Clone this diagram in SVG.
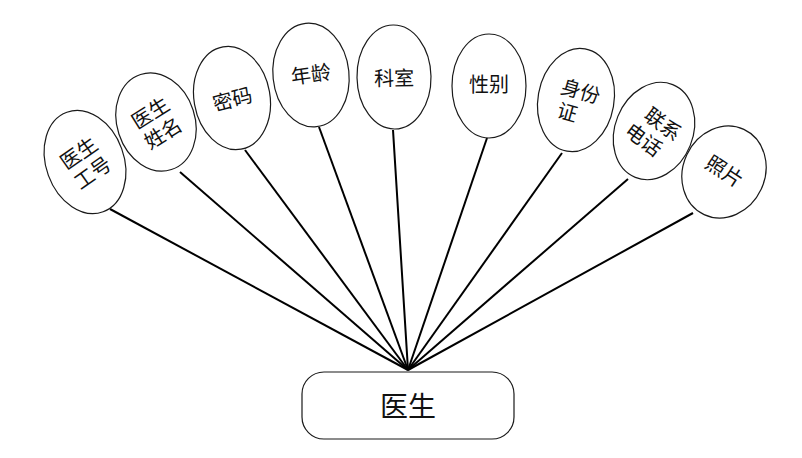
<svg xmlns="http://www.w3.org/2000/svg" width="802" height="458" viewBox="0 0 802 458">
<style>
.e{fill:#fff;stroke:#1a1a1a;stroke-width:1.2}
.t{font-family:"Noto Sans CJK SC","Noto Sans",sans-serif;font-size:20px;fill:#111;text-anchor:middle;dominant-baseline:central}
.c{stroke:#000;stroke-width:2;fill:none}
</style>
<rect width="802" height="458" fill="#fff"/>
<g id="connectors">
<line class="c" x1="408" y1="370" x2="110" y2="209"/>
<line class="c" x1="408" y1="370" x2="180" y2="172"/>
<line class="c" x1="408" y1="370" x2="245" y2="150"/>
<line class="c" x1="408" y1="370" x2="319" y2="127"/>
<line class="c" x1="408" y1="370" x2="393" y2="130"/>
<line class="c" x1="408" y1="370" x2="487" y2="138"/>
<line class="c" x1="408" y1="370" x2="562" y2="153"/>
<line class="c" x1="408" y1="370" x2="628" y2="179"/>
<line class="c" x1="408" y1="370" x2="693" y2="213"/>
</g>
<g id="n1" transform="translate(85,162) rotate(-20)">
<ellipse class="e" rx="39" ry="53"/>
<g transform="rotate(-15)"><text class="t" x="0" y="-12">医生</text><text class="t" x="0" y="12">工号</text></g>
</g>
<g id="n2" transform="translate(156,122) rotate(-18)">
<ellipse class="e" rx="39" ry="50"/>
<g transform="rotate(-14)"><text class="t" x="0" y="-12">医生</text><text class="t" x="0" y="12">姓名</text></g>
</g>
<g id="n3" transform="translate(232,98) rotate(-10)">
<ellipse class="e" rx="38" ry="52"/>
<text class="t" x="0" y="0" transform="rotate(-5)">密码</text>
</g>
<g id="n4" transform="translate(311,75) rotate(-6)">
<ellipse class="e" rx="38" ry="52"/>
<text class="t" x="0" y="-2" transform="rotate(-2)">年龄</text>
</g>
<g id="n5" transform="translate(394,77) rotate(-1)">
<ellipse class="e" rx="37" ry="52"/>
<text class="t" x="0" y="0">科室</text>
</g>
<g id="n6" transform="translate(489,86)">
<ellipse class="e" rx="37" ry="52"/>
<text class="t" x="0" y="-3">性别</text>
</g>
<g id="n7" transform="translate(576,100) rotate(10)">
<ellipse class="e" rx="38" ry="52"/>
<g transform="rotate(6)"><text class="t" x="2" y="-11">身份</text><text class="t" x="-5" y="13">证</text></g>
</g>
<g id="n8" transform="translate(654,131) rotate(22)">
<ellipse class="e" rx="39" ry="50"/>
<g transform="rotate(15)"><text class="t" x="3" y="-12">联系</text><text class="t" x="-3" y="12">电话</text></g>
</g>
<g id="n9" transform="translate(724,172) rotate(25)">
<ellipse class="e" rx="41" ry="47"/>
<text class="t" x="0" y="-2" transform="rotate(8)">照片</text>
</g>
<g id="doctor">
<rect x="302" y="372" width="212" height="67" rx="22" ry="22" class="e"/>
<text class="t" x="408" y="405" style="font-size:28px">医生</text>
</g>
</svg>
